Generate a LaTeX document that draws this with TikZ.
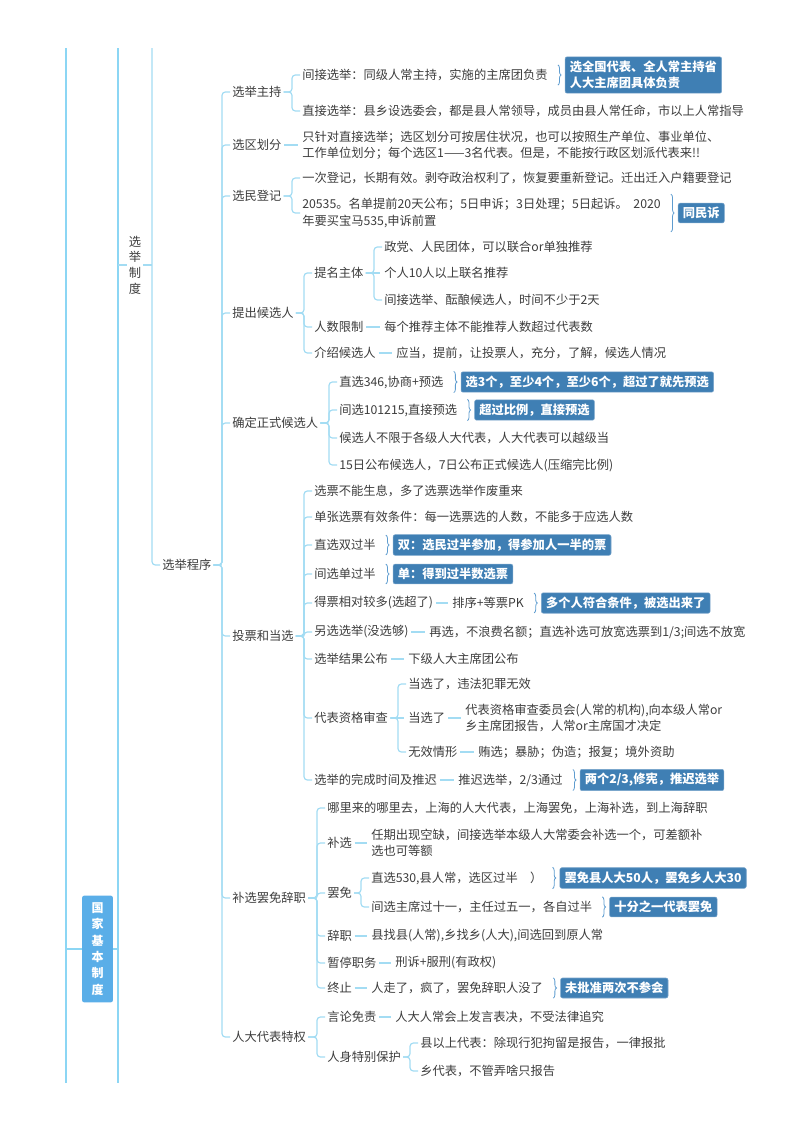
\documentclass[tikz,border=0pt]{standalone}
\usepackage{fontspec}
\setmainfont{Noto Sans CJK SC}
\usetikzlibrary{positioning,calc,decorations.pathreplacing}
\definecolor{trait}{HTML}{A3DCF3}
\definecolor{traitfort}{HTML}{8CD6F4}
\definecolor{encre}{HTML}{3C3C3C}
\definecolor{bleubox}{HTML}{3F7FB4}
\definecolor{bleuracine}{HTML}{5AAEE8}
\definecolor{bleuacc}{HTML}{5E9CCF}
\tikzstyle{feuille} = [anchor=west, inner xsep=1.5pt, inner ysep=0.75pt, text=encre, font=\fontsize{9.2}{12.2}\selectfont, align=left]
\tikzstyle{encadre} = [rectangle, rounded corners=1.5pt, fill=bleubox, draw=bleubox!70!white, line width=0.4pt, text=white, font=\fontsize{9.2}{12.4}\selectfont\bfseries, inner xsep=3.5pt, inner ysep=3pt, align=left]
\tikzstyle{boiteracine} = [rectangle, rounded corners=1.5pt, fill=bleuracine, text=white, font=\fontsize{9}{12.3}\selectfont\bfseries, minimum width=23pt, minimum height=80pt, align=center, inner sep=0pt]
\tikzstyle{lien} = [draw=trait, line width=0.9pt, rounded corners=2.5pt]
\tikzstyle{tronc} = [draw=traitfort, line width=1.5pt]
\tikzstyle{accolade} = [draw=bleuacc, line width=0.6pt, decorate, decoration={brace, amplitude=2.4pt}]
\newcommand{\branches}[2]{\foreach \enfant in {#2} {\draw[lien] (#1.east) -- ($(\enfant.west |- #1.east)+(-8,0)$) |- (\enfant.west);}}
\newcommand{\tiret}[2]{\draw[lien, shorten <=0.5pt, shorten >=1.5pt] (#1.east) -- (#2.west);}
\newcommand{\bulle}[3]{%
  \node (#2) [encadre, right=11.25pt of #1] {#3};
  \draw[accolade] ($(#1.north east)+(8,-3)$) -- ($(#1.south east)+(8,3)$);}

\begin{document}
\begin{tikzpicture}[x=0.75pt, y=-0.75pt]

        \useasboundingbox (0,0) rectangle (800,1132);

        \coordinate (atop) at (66,48);
        \coordinate (abot) at (66,1083);
        \coordinate (btop) at (118,48);
        \coordinate (bbot) at (118,1083);
        \coordinate (ctop) at (152,48);
        \coordinate (aroot) at (66,949);
        \coordinate (broot) at (118,949);
        \coordinate (bzhidu) at (118,265);
        \coordinate (czhidu) at (152,265);

        \draw[tronc] (atop) -- (abot);
        \draw[tronc] (btop) -- (bbot);

        \node (jiben) [boiteracine] at (97.5,949) {国\\家\\基\\本\\制\\度};
        \node (zhidu) [feuille, anchor=center, align=center, font=\fontsize{9.2}{11.8}\selectfont] at (135,265) {选\\举\\制\\度};
        \node (chengxu) [feuille] at (160,565) {选举程序};

        \draw[tronc] (aroot) -- (jiben);
        \draw[tronc] (jiben) -- (broot);
        \draw[lien] (bzhidu) -- (zhidu);
        \draw[lien] (zhidu) -- (czhidu);
        \draw[lien] (ctop) |- (chengxu.west);

        \node (zhuchi) [feuille] at (230,92) {选举主持};
        \node (huafen) [feuille] at (230,145) {选区划分};
        \node (dengji) [feuille] at (230,196) {选民登记};
        \node (tichu) [feuille] at (230,313) {提出候选人};
        \node (queding) [feuille] at (230,423) {确定正式候选人};
        \node (toupiao) [feuille] at (230,636) {投票和当选};
        \node (buxuan) [feuille] at (230,898) {补选罢免辞职};
        \node (tequan) [feuille] at (230,1037) {人大代表特权};

        \node (zhuchia) [feuille] at (300,75) {间接选举：同级人常主持，实施的主席团负责};
        \node (zhuchib) [feuille] at (300,111) {直接选举：县乡设选委会，都是县人常领导，成员由县人常任命，市以上人常指导};
        \node (huafena) [feuille] at (300,145) {只针对直接选举；选区划分可按居住状况，也可以按照生产单位、事业单位、\\工作单位划分；每个选区1——3名代表。但是，不能按行政区划派代表来!!};
        \node (dengjia) [feuille] at (300,178) {一次登记，长期有效。剥夺政治权利了，恢复要重新登记。迁出迁入户籍要登记};
        \node (dengjib) [feuille] at (300,213) {20535。名单提前20天公布；5日申诉；3日处理；5日起诉。\ \ 2020\\年要买宝马535,申诉前置};

        \node (timing) [feuille] at (312,273) {提名主体};
        \node (renshu) [feuille] at (312,327) {人数限制};
        \node (jieshao) [feuille] at (312,353) {介绍候选人};
        \node (timinga) [feuille] at (382,247) {政党、人民团体，可以联合or单独推荐};
        \node (timingb) [feuille] at (382,273) {个人10人以上联名推荐};
        \node (timingc) [feuille] at (382,300) {间接选举、酝酿候选人，时间不少于2天};
        \node (renshua) [feuille] at (382,327) {每个推荐主体不能推荐人数超过代表数};
        \node (jieshaoa) [feuille] at (394,353) {应当，提前，让投票人，充分，了解，候选人情况};

        \node (zhixuan) [feuille] at (337,382) {直选346,协商+预选};
        \node (jianxuan) [feuille] at (337,410) {间选101215,直接预选};
        \node (buxian) [feuille] at (337,438) {候选人不限于各级人大代表，人大代表可以越级当};
        \node (gongbu) [feuille] at (337,465) {15日公布候选人，7日公布正式候选人(压缩完比例)};

        \node (xuanpiao) [feuille] at (312,491) {选票不能生息，多了选票选举作废重来};
        \node (danzhang) [feuille] at (312,517) {单张选票有效条件：每一选票选的人数，不能多于应选人数};
        \node (shuangguo) [feuille] at (312,545) {直选双过半};
        \node (danguo) [feuille] at (312,574) {间选单过半};
        \node (jiaoduo) [feuille] at (312,603) {得票相对较多(选超了)};
        \node (lingxuan) [feuille] at (312,632) {另选选举(没选够)};
        \node (jieguo) [feuille] at (312,659) {选举结果公布};
        \node (shencha) [feuille] at (312,718) {代表资格审查};
        \node (tuichi) [feuille] at (312,780) {选举的完成时间及推迟};
        \node (jiaoduoa) [feuille] at (450,603) {排序+等票PK};
        \node (lingxuana) [feuille] at (427,632) {再选，不浪费名额；直选补选可放宽选票到1/3;间选不放宽};
        \node (jieguoa) [feuille] at (406,659) {下级人大主席团公布};
        \node (shenchaa) [feuille] at (406,684) {当选了，违法犯罪无效};
        \node (shenchab) [feuille] at (406,718) {当选了};
        \node (shenchac) [feuille] at (406,752) {无效情形};
        \node (shenchaba) [feuille] at (463,718) {代表资格审查委员会(人常的机构),向本级人常or\\乡主席团报告，人常or主席国才决定};
        \node (shenchaca) [feuille] at (476,752) {贿选；暴胁；伪造；报复；境外资助};
        \node (tuichia) [feuille] at (456,780) {推迟选举，2/3通过};

        \node (nali) [feuille] at (325,808) {哪里来的哪里去，上海的人大代表，上海罢免，上海补选，到上海辞职};
        \node (bu) [feuille] at (325,843) {补选};
        \node (bamian) [feuille] at (325,893) {罢免};
        \node (cizhi) [feuille] at (325,936) {辞职};
        \node (zanting) [feuille] at (325,963) {暂停职务};
        \node (zhongzhi) [feuille] at (325,988) {终止};
        \node (bua) [feuille] at (369,843) {任期出现空缺，间接选举本级人大常委会补选一个，可差额补\\选也可等额};
        \node (bamiana) [feuille] at (369,878) {直选530,县人常，选区过半\quad）};
        \node (bamianb) [feuille] at (369,907) {间选主席过十一，主任过五一，各自过半};
        \node (cizhia) [feuille] at (369,936) {县找县(人常),乡找乡(人大),间选回到原人常};
        \node (zantinga) [feuille] at (393,963) {刑诉+服刑(有政权)};
        \node (zhongzhia) [feuille] at (369,988) {人走了，疯了，罢免辞职人没了};

        \node (yanlun) [feuille] at (325,1017) {言论免责};
        \node (baohu) [feuille] at (325,1057) {人身特别保护};
        \node (yanluna) [feuille] at (393,1017) {人大人常会上发言表决，不受法律追究};
        \node (baohua) [feuille] at (418,1043) {县以上代表：除现行犯拘留是报告，一律报批};
        \node (baohub) [feuille] at (418,1071) {乡代表，不管弄啥只报告};

        \branches{chengxu}{zhuchi, huafen, dengji, tichu, queding, toupiao, buxuan, tequan}
        \branches{zhuchi}{zhuchia, zhuchib}
        \tiret{huafen}{huafena}
        \branches{dengji}{dengjia, dengjib}
        \branches{tichu}{timing, renshu, jieshao}
        \branches{timing}{timinga, timingc}
        \tiret{timing}{timingb}
        \tiret{renshu}{renshua}
        \tiret{jieshao}{jieshaoa}
        \branches{queding}{zhixuan, jianxuan, buxian, gongbu}
        \branches{toupiao}{xuanpiao, danzhang, shuangguo, danguo, jiaoduo, lingxuan, jieguo, shencha, tuichi}
        \tiret{jiaoduo}{jiaoduoa}
        \tiret{lingxuan}{lingxuana}
        \tiret{jieguo}{jieguoa}
        \branches{shencha}{shenchaa, shenchac}
        \tiret{shencha}{shenchab}
        \tiret{shenchab}{shenchaba}
        \tiret{shenchac}{shenchaca}
        \tiret{tuichi}{tuichia}
        \branches{buxuan}{nali, bu, bamian, cizhi, zanting, zhongzhi}
        \tiret{bu}{bua}
        \branches{bamian}{bamiana, bamianb}
        \tiret{cizhi}{cizhia}
        \tiret{zanting}{zantinga}
        \tiret{zhongzhi}{zhongzhia}
        \branches{tequan}{yanlun, baohu}
        \tiret{yanlun}{yanluna}
        \branches{baohu}{baohua, baohub}

        \bulle{zhuchia}{quanguo}{选全国代表、全人常主持省\\人大主席团具体负责}
        \bulle{dengjib}{tongmin}{同民诉}
        \bulle{zhixuan}{xuansan}{选3个，至少4个，至少6个，超过了就先预选}
        \bulle{jianxuan}{chaoguo}{超过比例，直接预选}
        \bulle{shuangguo}{shuang}{双：选民过半参加，得参加人一半的票}
        \bulle{danguo}{dan}{单：得到过半数选票}
        \bulle{jiaoduoa}{duoge}{多个人符合条件，被选出来了}
        \bulle{tuichia}{liangge}{两个2/3,修宪，推迟选举}
        \bulle{bamiana}{xianren}{罢免县人大50人，罢免乡人大30}
        \bulle{bamianb}{shifen}{十分之一代表罢免}
        \bulle{zhongzhia}{weipi}{未批准两次不参会}

    \end{tikzpicture}
\end{document}
